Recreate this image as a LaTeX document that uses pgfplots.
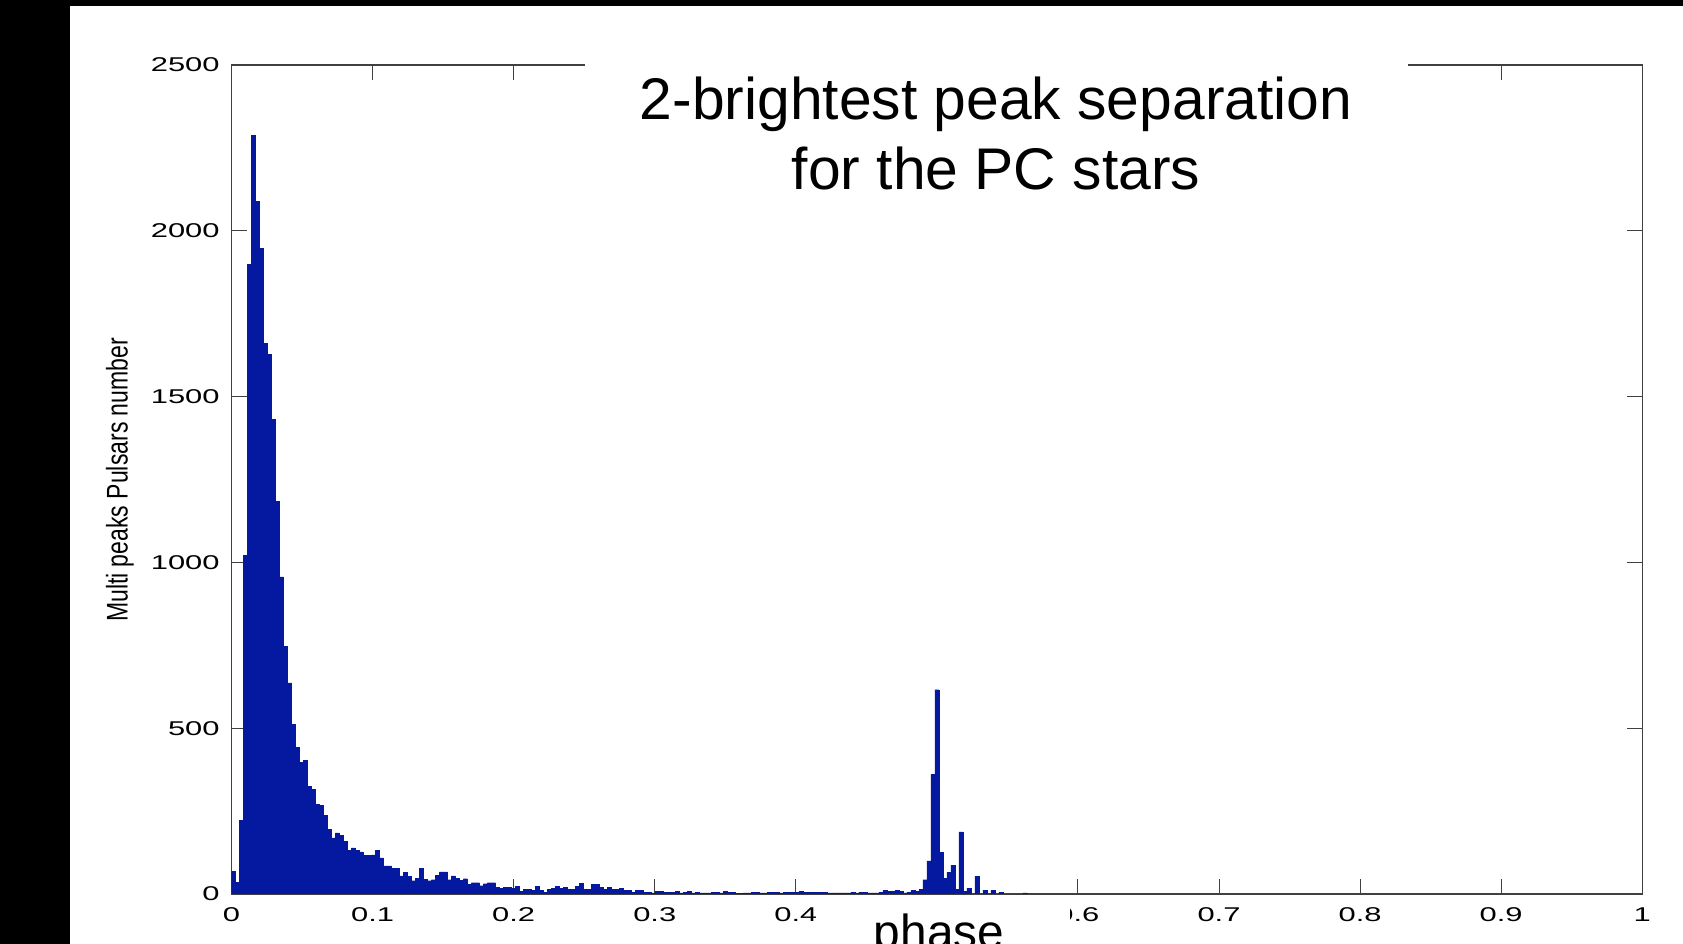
\documentclass[border=0pt]{standalone}
\usepackage{fontspec}
\usepackage{pgfplots}
\usepackage{pgfplotstable}
\pgfplotsset{compat=1.18}
\setmainfont{Liberation Sans}
\newfontfamily\tickfont[FakeStretch=1.55]{Liberation Sans}
\newfontfamily\ylabfont[FakeStretch=0.77]{Liberation Sans}
\definecolor{barblue}{RGB}{4,24,160}

\pgfplotstableread{
k y
1 68
2 36
3 222
4 1021
5 1898
6 2288
7 2088
8 1947
9 1661
10 1627
11 1431
12 1184
13 956
14 747
15 637
16 512
17 442
18 397
19 402
20 325
21 315
22 271
23 268
24 238
25 194
26 169
27 184
28 177
29 159
30 131
31 139
32 131
33 127
34 116
35 116
36 118
37 131
38 109
39 85
40 85
41 77
42 77
43 55
44 65
45 53
46 40
47 47
48 77
49 45
50 40
51 43
52 56
53 67
54 67
55 43
56 55
57 47
58 42
59 46
60 30
61 34
62 34
63 25
64 31
65 34
66 34
67 21
68 18
69 20
70 20
71 18
72 24
73 7
74 15
75 15
76 12
77 23
78 12
79 6
80 13
81 17
82 23
83 18
84 20
85 15
86 13
87 23
88 33
89 13
90 13
91 29
92 29
93 21
94 15
95 21
96 13
97 13
98 16
99 11
100 11
101 6
102 10
103 10
104 6
105 6
106 3
107 8
108 8
109 6
110 6
111 6
112 8
113 3
114 6
115 8
116 3
117 6
118 3
119 3
120 3
121 4
122 6
123 3
124 8
125 4
126 6
127 2
128 2
129 3
130 3
131 5
132 5
133 3
134 3
135 4
136 4
137 6
138 3
139 4
140 4
141 6
142 6
143 9
144 6
145 4
146 4
147 4
148 6
149 6
150 3
151 3
152 3
153 3
154 3
155 3
156 6
157 3
158 6
159 6
160 3
161 3
162 3
163 6
164 11
165 9
166 9
167 11
168 8
169 3
170 6
171 11
172 8
173 13
174 43
175 100
176 360
177 616
178 126
179 48
180 65
181 87
182 15
183 187
184 8
185 18
187 54
189 12
191 11
193 6
199 3
}\histdata

\begin{document}
\begin{tikzpicture}[x=1bp,y=1bp]
\useasboundingbox (0,0) rectangle (841.5,472);
\clip (0,0) rectangle (841.5,472);
\fill[white] (0,0) rectangle (841.5,472);
\fill[black] (0,0) rectangle (35,472);
\fill[black] (0,469) rectangle (841.5,472);
\begin{axis}[
  at={(115.75bp,25bp)}, anchor=south west,
  scale only axis, width=705.35bp, height=414.5bp,
  xmin=0, xmax=1, ymin=0, ymax=2500,
  xtick={0,0.1,...,1.0},
  xticklabels={0,0.1,0.2,0.3,0.4,0.5,0.6,0.7,0.8,0.9,1},
  ytick={0,500,1000,1500,2000,2500},
  yticklabels={0,500,1000,1500,2000,2500},
  tick pos=both,
  tick align=inside,
  major tick length=7.5bp,
  tick style={black!75, line width=0.5bp},
  axis line style={black!75, line width=0.6bp},
  /pgf/number format/assume math mode=true,
  tick label style={font=\tickfont\fontsize{10}{12}\selectfont},
  xticklabel style={anchor=north, inner sep=0pt, yshift=-6.5bp},
  yticklabel style={anchor=east, inner sep=0pt, xshift=-5.75bp},
]
\addplot[ybar, bar width=0.0028329, bar shift=0pt, fill=barblue, draw=barblue, line width=0.2bp]
  table[x expr={(\thisrow{k}-0.5)*0.0028329}, y=y] {\histdata};
\end{axis}
\fill[white] (292.5,365) rectangle (704,445);
\node[anchor=base, inner sep=0pt, font=\fontsize{29.5}{35}\selectfont] at (498,412) {2-brightest peak separation};
\node[anchor=base, inner sep=0pt, font=\fontsize{29.5}{35}\selectfont] at (498,377) {for the PC stars};
\fill[white] (408,-1) rectangle (535,21);
\node[anchor=base, inner sep=0pt, font=\fontsize{24}{28}\selectfont] at (469.5,-2.45) {phase};
\node[rotate=90, inner sep=0pt, font=\ylabfont\fontsize{15}{18}\selectfont] at (60,232) {Multi peaks Pulsars number};
\end{tikzpicture}
\end{document}
